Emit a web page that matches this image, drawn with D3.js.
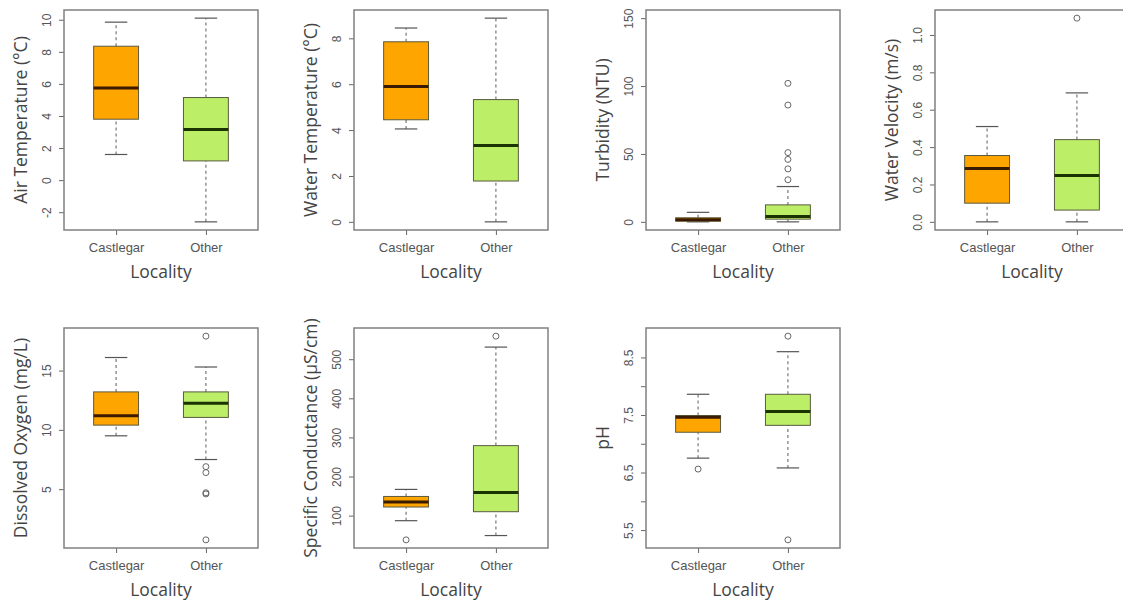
<!DOCTYPE html>
<html>
<head>
<meta charset="utf-8">
<script src="https://cdn.jsdelivr.net/npm/d3@7"></script>
<style>
  body { margin: 0; background: #fff; }
  svg { display: block; font-family: "Open Sans", sans-serif; }
</style>
</head>
<body>
<svg id="chart" width="1123" height="602"></svg>
<script>
// groups on the x axis
var categories = ["Castlegar", "Other"];

// five number summaries per group: [lower whisker, Q1, median, Q3, upper whisker]
var airTemp = [[1.6, 3.8, 5.75, 8.35, 9.85], [-2.6, 1.2, 3.15, 5.15, 10.1]];
var waterTemp = [[4.05, 4.45, 5.9, 7.85, 8.45], [0, 1.78, 3.33, 5.33, 8.88]];
var turbidity = [[0, 0.5, 1.5, 3, 7], [0, 2, 4, 12.5, 26]];
var velocity = [[0, 0.1, 0.285, 0.355, 0.51], [0, 0.063, 0.248, 0.44, 0.69]];
var oxygen = [[9.5, 10.4, 11.2, 13.2, 16.1], [7.5, 11.05, 12.25, 13.2, 15.3]];
var conductance = [[87, 122, 135, 149, 167], [49, 110, 159, 279, 531]];
var ph = [[6.75, 7.2, 7.46, 7.49, 7.86], [6.58, 7.32, 7.56, 7.86, 8.6]];

// outliers per group
var airTempOut = [[], []];
var waterTempOut = [[], []];
var turbidityOut = [[], [31, 39, 46, 51, 86, 102]];
var velocityOut = [[], [1.09]];
var oxygenOut = [[], [0.73, 4.6, 4.7, 6.4, 6.9, 17.9]];
var conductanceOut = [[38], [559]];
var phOut = [[6.56], [5.33, 8.87]];

// y axis titles
var titles = ["Air Temperature (°C)", "Water Temperature (°C)", "Turbidity (NTU)", "Water Velocity (m/s)",
              "Dissolved Oxygen (mg/L)", "Specific Conductance (µS/cm)", "pH"];

// tick marks and the labels shown at them
var airTicks = [-2, 0, 2, 4, 6, 8, 10];
var waterTicks = [0, 2, 4, 6, 8];
var turbTicks = [0, 50, 100, 150];
var velTicks = [0, 0.2, 0.4, 0.6, 0.8, 1.0];
var oxyTicks = [5, 10, 15];
var condTicks = [100, 200, 300, 400, 500];
var phTicks = [5.5, 6, 6.5, 7, 7.5, 8, 8.5];
var phLabels = [5.5, 6.5, 7.5, 8.5];

var xLabel = "Locality";
var fills = ["#ffa500", "#bcee68"];

var panels = [
  {stats: airTemp, out: airTempOut, ticks: airTicks, dec: 0},
  {stats: waterTemp, out: waterTempOut, ticks: waterTicks, dec: 0},
  {stats: turbidity, out: turbidityOut, ticks: turbTicks, dec: 0, ylim: [0, 150]},
  {stats: velocity, out: velocityOut, ticks: velTicks, dec: 1},
  {stats: oxygen, out: oxygenOut, ticks: oxyTicks, dec: 0},
  {stats: conductance, out: conductanceOut, ticks: condTicks, dec: 0},
  {stats: ph, out: phOut, ticks: phTicks, labels: phLabels, dec: 1}
];

var colX = [64, 354, 646, 935],
    rowY = [10, 328],
    pw = 194,
    ph_ = 220;

var svg = d3.select("#chart");

panels.forEach(function(p, i) {
  var left = colX[i % 4], top = rowY[Math.floor(i / 4)];
  var g = svg.append("g").attr("transform", "translate(" + left + "," + top + ")");

  // R style ranges: data range padded by 4%
  var lo, hi;
  if (p.ylim) { lo = p.ylim[0]; hi = p.ylim[1]; }
  else {
    var all = [];
    p.stats.forEach(function(s, k) { all = all.concat(s, p.out[k]); });
    lo = d3.min(all); hi = d3.max(all);
  }
  var pad = (hi - lo) * 0.04;
  var y = d3.scaleLinear().domain([lo - pad, hi + pad]).range([ph_, 0]);
  var x = d3.scaleLinear().domain([0.42, 2.58]).range([0, pw]);

  // y axis
  var shown = p.labels || p.ticks;
  var yAxis = d3.axisLeft(y).tickValues(p.ticks).tickSize(5).tickPadding(3)
    .tickFormat(function(d) { return shown.indexOf(d) >= 0 ? d.toFixed(p.dec) : ""; });
  var ya = g.append("g").call(yAxis);
  ya.select(".domain").remove();
  ya.selectAll("line").attr("stroke", "#666");
  ya.selectAll("text")
    .attr("transform", "translate(-17,0) rotate(-90)")
    .attr("x", 0).attr("y", 0).attr("dy", "0.35em")
    .style("text-anchor", "middle")
    .style("font-size", "12px").attr("fill", "#555");

  // x axis
  var xa = g.append("g").attr("transform", "translate(0," + ph_ + ")")
    .call(d3.axisBottom(x).tickValues([1, 2]).tickSize(5).tickPadding(8)
      .tickFormat(function(d) { return categories[d - 1]; }));
  xa.select(".domain").remove();
  xa.selectAll("line").attr("stroke", "#666");
  xa.selectAll("text").style("font-size", "13px").attr("fill", "#555");

  // boxes
  p.stats.forEach(function(s, k) {
    var cx = x(k + 1), hw = x(0.25) - x(0), cw = x(0.125) - x(0);
    var bg = g.append("g");
    // whiskers
    bg.selectAll("line.wh").data([[s[0], s[1]], [s[3], s[4]]]).enter().append("line")
      .attr("x1", cx).attr("x2", cx)
      .attr("y1", function(d) { return y(d[0]); })
      .attr("y2", function(d) { return y(d[1]); })
      .attr("stroke", "#777").attr("stroke-width", 1.2).attr("stroke-dasharray", "3,3");
    bg.selectAll("line.cap").data([s[0], s[4]]).enter().append("line")
      .attr("x1", cx - cw).attr("x2", cx + cw)
      .attr("y1", function(d) { return y(d); })
      .attr("y2", function(d) { return y(d); })
      .attr("stroke", "#555").attr("stroke-width", 1.2);
    bg.append("rect")
      .attr("x", cx - hw).attr("width", hw * 2)
      .attr("y", y(s[3])).attr("height", Math.max(1, y(s[1]) - y(s[3])))
      .attr("fill", fills[k]).attr("stroke", "#5a5a40").attr("stroke-width", 1);
    bg.append("line")
      .attr("x1", cx - hw).attr("x2", cx + hw)
      .attr("y1", y(s[2])).attr("y2", y(s[2]))
      .attr("stroke", k === 0 ? "#3a1a00" : "#1a3300").attr("stroke-width", 3);
    bg.selectAll("circle").data(p.out[k]).enter().append("circle")
      .attr("cx", cx).attr("cy", function(d) { return y(d); }).attr("r", 3)
      .attr("fill", "none").attr("stroke", "#666").attr("stroke-width", 1);
  });

  // frame
  g.append("rect").attr("width", pw).attr("height", ph_)
    .attr("fill", "none").attr("stroke", "#808080").attr("stroke-width", 1.5);

  // titles
  g.append("text")
    .attr("transform", "translate(-43," + (ph_ / 2) + ") rotate(-90)")
    .attr("text-anchor", "middle").attr("dy", "0.35em")
    .style("font-size", "17.5px").attr("fill", "#444")
    .text(titles[i]);
  g.append("text")
    .attr("x", (x(1) + x(2)) / 2).attr("y", ph_ + 42)
    .attr("text-anchor", "middle").attr("dy", "0.35em")
    .style("font-size", "17.5px").attr("fill", "#444")
    .text(xLabel);
});
</script>
</body>
</html>
